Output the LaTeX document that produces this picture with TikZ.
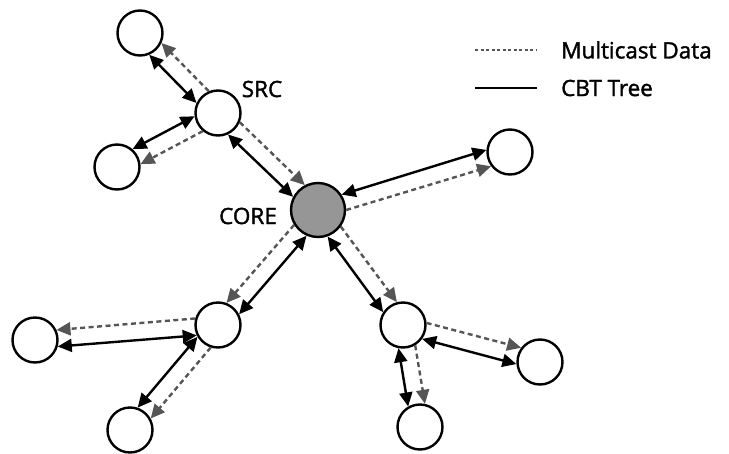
\documentclass[tikz,border=0pt]{standalone}
\usepackage{fontspec}
\setmainfont{Open Sans}
\newfontfamily\lblfont{Open Sans}[FakeBold=1.6]
\usetikzlibrary{arrows.meta,calc}
\definecolor{coregray}{RGB}{150,150,150}
\definecolor{datagray}{RGB}{85,85,85}
\tikzset{
  nd/.style={circle,draw=black,line width=2.4pt,fill=white,minimum size=45pt,inner sep=0pt},
  corend/.style={nd,fill=coregray,minimum size=54pt},
  cbt/.style={line width=2.4pt,draw=black,{Triangle[length=14pt,width=13pt]}-{Triangle[length=14pt,width=13pt]}},
  mdata/.style={line width=2.4pt,draw=datagray,dash pattern=on 5pt off 3.5pt,-{Triangle[length=14pt,width=13pt,fill=datagray]}},
  lbl/.style={font=\lblfont\fontsize{22.5}{26}\selectfont,inner sep=0pt}
}
% #1 parent, #2 child, #3 side sign, #4 angle offset at parent, #5 angle offset at child
\newcommand\lnk[5]{%
  \draw[mdata] let \p1=($(#2)-(#1)$), \n1={atan2(\y1,\x1)} in
    (#1.{\n1+#3*#4}) -- (#2.{\n1+180-#3*#5});
  \draw[cbt] let \p1=($(#2)-(#1)$), \n1={atan2(\y1,\x1)} in
    (#1.{\n1-#3*#4}) -- (#2.{\n1+180+#3*#5});
}
\begin{document}
\begin{tikzpicture}[x=1pt,y=-1pt]
\useasboundingbox (0,0) rectangle (729,453);
% nodes
\node[nd] (A) at (140,33) {};
\node[nd] (src) at (218,113) {};
\node[nd] (B) at (117,167) {};
\node[corend] (core) at (318,210) {};
\node[nd] (R1) at (510,152) {};
\node[nd] (L) at (218,325) {};
\node[nd] (LL) at (35,340) {};
\node[nd] (LB) at (130,430) {};
\node[nd] (M) at (403,325) {};
\node[nd] (MR) at (540,362) {};
\node[nd] (MB) at (420,427) {};
% labels
\node[lbl] (srclbl) at (262,89) {SRC};
\node[lbl] (corelbl) at (248,216) {CORE};
% links
\lnk{src}{A}{-1}{21}{21}
\lnk{src}{B}{1}{21}{21}
\lnk{src}{core}{1}{21}{17}
\lnk{core}{R1}{-1}{17}{21}
\lnk{core}{L}{-1}{17}{21}
\lnk{core}{M}{1}{17}{21}
\lnk{L}{LL}{-1}{21}{21}
\lnk{L}{LB}{1}{21}{21}
\lnk{M}{MR}{1}{21}{21}
\lnk{M}{MB}{1}{21}{21}
% legend
\coordinate (d1) at (475,50);
\coordinate (d2) at (537,50);
\coordinate (s1) at (475,88);
\coordinate (s2) at (537,88);
\draw[line width=1.6pt,draw=datagray,dash pattern=on 3pt off 2.5pt] (d1) -- (d2);
\draw[line width=2.4pt] (s1) -- (s2);
\node[lbl,anchor=west] (leg1) at (561,50) {Multicast Data};
\node[lbl,anchor=west] (leg2) at (561,88) {CBT Tree};
\end{tikzpicture}
\end{document}
